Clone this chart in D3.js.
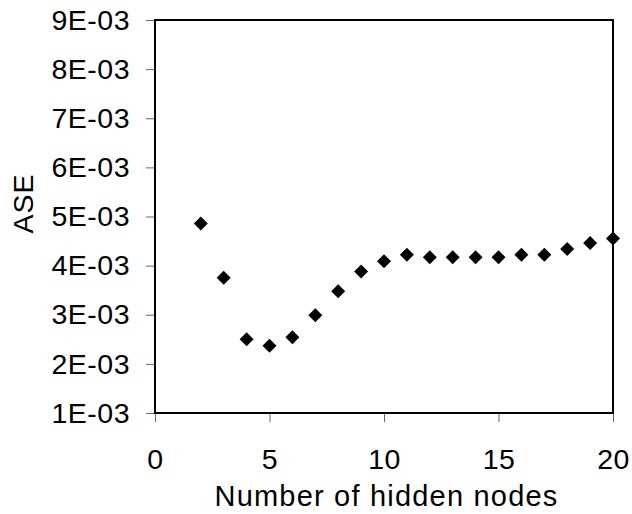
<!DOCTYPE html>
<html><head><meta charset="utf-8">
<script src="https://cdn.jsdelivr.net/npm/d3@7"></script>
<style>body{margin:0;background:#fff}svg{display:block}text{font-family:"Liberation Sans",Arial,sans-serif;fill:#000}</style>
</head><body>
<svg id="c" width="632" height="514"></svg>
<script>
const hiddenNodes = [2,3,4,5,6,7,8,9,10,11,12,13,14,15,16,17,18,19,20];
const aseValues = [4.86e-3,3.755e-3,2.50e-3,2.37e-3,2.54e-3,2.99e-3,3.48e-3,3.88e-3,4.09e-3,4.22e-3,4.17e-3,4.17e-3,4.17e-3,4.17e-3,4.22e-3,4.22e-3,4.34e-3,4.46e-3,4.55e-3];
const xTicks = [0,5,10,15,20];
const yTicks = [1e-3,2e-3,3e-3,4e-3,5e-3,6e-3,7e-3,8e-3,9e-3];
const yTickLabels = ["1E-03","2E-03","3E-03","4E-03","5E-03","6E-03","7E-03","8E-03","9E-03"];

const svg = d3.select("#c");
const L=155, R=613, T=20, B=413;
const x = d3.scaleLinear().domain([0,20]).range([L,R]);
const y = d3.scaleLinear().domain([1e-3,9e-3]).range([B,T]);
const fs = 28.5;

// y axis
const ya = svg.append("g").attr("transform",`translate(${L},0)`)
  .call(d3.axisLeft(y).tickValues(yTicks).tickFormat((d,i)=>yTickLabels[i]).tickSize(9).tickPadding(16));
ya.select(".domain").remove();
ya.selectAll("line").attr("stroke","#666").attr("stroke-width",1);
ya.selectAll("text").attr("font-size",fs).attr("letter-spacing","0.5px").attr("font-family","Liberation Sans, Arial, sans-serif");

// x axis
const xa = svg.append("g").attr("transform",`translate(0,${B})`)
  .call(d3.axisBottom(x).tickValues(xTicks).tickSize(9).tickPadding(0));
xa.select(".domain").remove();
xa.selectAll("line").attr("stroke","#666").attr("stroke-width",1);
xa.selectAll("text").attr("font-size",fs).attr("letter-spacing","0.5px").attr("dy",null).attr("y",56)
  .attr("font-family","Liberation Sans, Arial, sans-serif");

// frame
svg.append("rect").attr("x",L).attr("y",T).attr("width",R-L).attr("height",B-T)
  .attr("fill","none").attr("stroke","#000").attr("stroke-width",2);

// points
const sym = d3.symbol().type(d3.symbolSquare).size(98);
svg.append("g").selectAll("path").data(hiddenNodes).join("path")
  .attr("d",sym)
  .attr("transform",(d,i)=>`translate(${x(d)},${y(aseValues[i])}) rotate(45)`)
  .attr("fill","#000");

// titles
svg.append("text").attr("x",386.5).attr("y",506).attr("text-anchor","middle")
  .attr("font-size",29).attr("letter-spacing","1.2px").text("Number of hidden nodes");
svg.append("text").attr("transform",`translate(33,203.5) rotate(-90)`).attr("text-anchor","middle")
  .attr("font-size",fs).attr("letter-spacing","1px").text("ASE");
</script>
</body></html>
